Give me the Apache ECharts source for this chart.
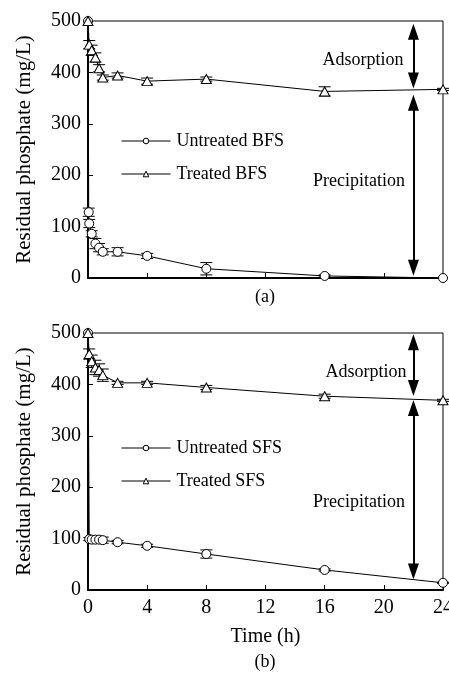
<!DOCTYPE html>
<html>
<head>
<meta charset="utf-8">
<script src="https://cdn.jsdelivr.net/npm/echarts@6/dist/echarts.min.js"></script>
<style>
html,body{margin:0;padding:0;background:#fff;}
#chart{width:449px;height:684px;}
</style>
</head>
<body>
<div id="chart"></div>
<script>
// ---- data ----
const tUntreatedBFS = [0, 0.05, 0.083, 0.25, 0.5, 0.75, 1, 2, 4, 8, 16, 24];
const untreatedBFS  = [500, 128, 106, 86, 67, 59, 51, 51, 43, 18, 4, 0];
const untreatedBFSErr = [0, 8, 8, 6, 10, 8, 6, 8, 5, 12, 2, 0];

const tTreatedBFS = [0, 0.083, 0.25, 0.5, 0.75, 1, 2, 4, 8, 16, 24];
const treatedBFS  = [500, 454, 443, 429, 408, 390, 394, 383, 387, 363, 367];
const treatedBFSErr = [0, 8, 10, 9, 7, 5, 5, 6, 4, 9, 2];

const tUntreatedSFS = [0, 0.083, 0.25, 0.5, 0.75, 1, 2, 4, 8, 16, 24];
const untreatedSFS  = [500, 99, 98, 98, 98, 97, 93, 86, 70, 39, 14];
const untreatedSFSErr = [0, 3, 4, 4, 5, 6, 3, 3, 8, 2, 1];

const tTreatedSFS = [0, 0.083, 0.25, 0.5, 0.75, 1, 2, 4, 8, 16, 24];
const treatedSFS  = [500, 459, 445, 433, 428, 418, 403, 403, 394, 377, 369];
const treatedSFSErr = [0, 10, 12, 14, 12, 12, 3, 3, 4, 4, 2];

// annotation arrows at t = 22 h: [from, to] (arrow-head centres, mg/L)
const arrowTime = 22;
const arrowsBFS = [[479, 384], [341, 20]];
const arrowsSFS = [[482, 393], [354, 36]];

const xTicks = [0, 4, 8, 12, 16, 20, 24];
const yTicks = [0, 100, 200, 300, 400, 500];

// ---- chart ----
const FONT = 'Liberation Serif';
const chart = echarts.init(document.getElementById('chart'), null, {renderer: 'canvas'});

function pairs(t, v) { return t.map((x, i) => [x, v[i]]); }
function triples(t, v, e) { return t.map((x, i) => [x, v[i], e[i]]); }

function errSeries(idx, t, v, e) {
  return {
    type: 'custom', xAxisIndex: idx, yAxisIndex: idx, z: 1, silent: true, animation: false,
    data: triples(t, v, e),
    renderItem: function (params, api) {
      const x = api.value(0), y = api.value(1), er = api.value(2);
      if (!er) return {type: 'group', children: []};
      const hi = api.coord([x, y + er]), lo = api.coord([x, y - er]);
      const w = 6, st = {stroke: '#000', lineWidth: 1};
      return {type: 'group', children: [
        {type: 'line', shape: {x1: hi[0], y1: hi[1], x2: lo[0], y2: lo[1]}, style: st},
        {type: 'line', shape: {x1: hi[0] - w, y1: hi[1], x2: hi[0] + w, y2: hi[1]}, style: st},
        {type: 'line', shape: {x1: lo[0] - w, y1: lo[1], x2: lo[0] + w, y2: lo[1]}, style: st}
      ]};
    }
  };
}

function lineSeries(name, idx, t, v, symbol, size, arrows) {
  const s = {
    name: name, type: 'line', xAxisIndex: idx, yAxisIndex: idx, z: 3,
    data: pairs(t, v), symbol: symbol, symbolSize: size, showSymbol: true,
    animation: false,
    lineStyle: {color: '#000', width: 1},
    itemStyle: {color: '#fff', borderColor: '#000', borderWidth: 1},
    emphasis: {disabled: true}
  };
  if (arrows) {
    s.markLine = {
      silent: true, animation: false,
      symbol: ['triangle', 'triangle'], symbolSize: [11, 16],
      lineStyle: {color: '#000', width: 2, type: 'solid'},
      label: {show: false},
      data: arrows.map(a => [{coord: [arrowTime, a[0]]}, {coord: [arrowTime, a[1]]}])
    };
  }
  return s;
}

function xAxis(idx, showLabels) {
  return {
    type: 'value', gridIndex: idx, min: 0, max: 24, interval: 4,
    name: showLabels ? 'Time (h)' : '', nameLocation: 'middle', nameGap: 37,
    nameTextStyle: {fontFamily: FONT, fontSize: 20, color: '#000'},
    axisLine: {lineStyle: {color: '#000', width: 2}},
    axisTick: {inside: true, length: 5, lineStyle: {color: '#000', width: 1}},
    axisLabel: {show: showLabels, fontFamily: FONT, fontSize: 20, color: '#000', margin: 8},
    splitLine: {show: false}
  };
}
function yAxis(idx) {
  return {
    type: 'value', gridIndex: idx, min: 0, max: 500, interval: 100,
    name: 'Residual phosphate (mg/L)', nameLocation: 'middle', nameGap: 53, nameRotate: 90,
    nameTextStyle: {fontFamily: FONT, fontSize: 21, color: '#000'},
    axisLine: {lineStyle: {color: '#000', width: 2}},
    axisTick: {inside: true, length: 5, lineStyle: {color: '#000', width: 1}},
    axisLabel: {fontFamily: FONT, fontSize: 20, color: '#000', margin: 7},
    splitLine: {show: false}
  };
}
function legend(names, top) {
  return {
    data: names, left: 121, top: top, orient: 'vertical', padding: 0,
    itemWidth: 49, itemHeight: 7, itemGap: 15, selectedMode: false,
    itemStyle: {color: '#fff', borderColor: '#000', borderWidth: 1},
    lineStyle: {color: '#000', width: 1},
    textStyle: {fontFamily: FONT, fontSize: 18, color: '#000', padding: [0, 0, 0, 1]}
  };
}
function txt(x, y, s) {
  return {type: 'text', x: x, y: y, style: {text: s, fontFamily: FONT, fontSize: 18, fill: '#000', align: 'center', verticalAlign: 'middle'}};
}

chart.setOption({
  backgroundColor: '#fff',
  animation: false,
  grid: [
    {left: 88, right: 6, top: 21, height: 257, show: true, borderColor: '#000', borderWidth: 1, containLabel: false, outerBoundsMode: 'none'},
    {left: 88, right: 6, top: 333, height: 257, show: true, borderColor: '#000', borderWidth: 1, containLabel: false, outerBoundsMode: 'none'}
  ],
  xAxis: [xAxis(0, false), xAxis(1, true)],
  yAxis: [yAxis(0), yAxis(1)],
  legend: [legend(['Untreated BFS', 'Treated BFS'], 132), legend(['Untreated SFS', 'Treated SFS'], 439)],
  series: [
    errSeries(0, tUntreatedBFS, untreatedBFS, untreatedBFSErr),
    errSeries(0, tTreatedBFS, treatedBFS, treatedBFSErr),
    errSeries(1, tUntreatedSFS, untreatedSFS, untreatedSFSErr),
    errSeries(1, tTreatedSFS, treatedSFS, treatedSFSErr),
    lineSeries('Untreated BFS', 0, tUntreatedBFS, untreatedBFS, 'circle', 9, null),
    lineSeries('Treated BFS', 0, tTreatedBFS, treatedBFS, 'triangle', [10, 9], arrowsBFS),
    lineSeries('Untreated SFS', 1, tUntreatedSFS, untreatedSFS, 'circle', 9, null),
    lineSeries('Treated SFS', 1, tTreatedSFS, treatedSFS, 'triangle', [10, 9], arrowsSFS)
  ],
  graphic: [
    txt(363, 60, 'Adsorption'),
    txt(359, 181, 'Precipitation'),
    txt(366, 372, 'Adsorption'),
    txt(359, 502, 'Precipitation'),
    txt(265, 297, '(a)'),
    txt(265, 662, '(b)')
  ]
});
</script>
</body>
</html>
